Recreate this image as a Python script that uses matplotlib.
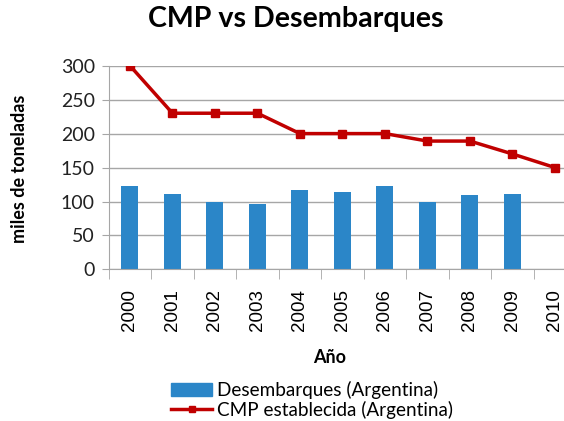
import numpy as np
import matplotlib.pyplot as plt
from matplotlib.lines import Line2D
from matplotlib.patches import Patch

plt.rcParams["font.family"] = ["Lato", "DejaVu Sans"]

years = ["2000", "2001", "2002", "2003", "2004", "2005",
         "2006", "2007", "2008", "2009", "2010"]
desembarques = [123, 111, 99, 97, 117, 114, 123, 99, 109, 111, np.nan]
cmp_establecida = [300, 230, 230, 230, 200, 200, 200, 189, 189, 170, 150]

fig = plt.figure(figsize=(5.64, 4.21), dpi=100)
ax = fig.add_axes([0.1927, 0.36, 0.829, 0.484])

x = np.arange(len(years))
ax.bar(x, desembarques, width=0.4, color="#2b86c8", zorder=2)
ax.plot(x, cmp_establecida, color="#c00000", linewidth=2.5, marker="s",
        markersize=6, zorder=3)

ax.set_xlim(-0.5, len(years) - 0.5)
ax.set_ylim(0, 300)
ax.set_yticks(range(0, 301, 50))
ax.yaxis.grid(True, color="#a6a6a6", linewidth=1, zorder=0)
ax.tick_params(axis="y", length=5, color="#a6a6a6", labelsize=14,
               labelcolor="#222222", pad=5)

ax.set_xticks(x)
ax.set_xticklabels(years, rotation=90, fontsize=13.5,
                   family=["Liberation Sans", "DejaVu Sans"])
ax.set_xticks(np.arange(-0.5, len(years), 1), minor=True)
ax.tick_params(axis="x", which="major", length=0, pad=14)
ax.tick_params(axis="x", which="minor", length=7, color="#a6a6a6")

for side in ["top", "right"]:
    ax.spines[side].set_visible(False)
for side in ["left", "bottom"]:
    ax.spines[side].set_color("#a6a6a6")

fig.text(0.035, 0.599, "miles de toneladas", fontsize=13, fontweight="bold",
         rotation=90, ha="center", va="center")
fig.text(0.585, 0.152, "Año", fontsize=13, fontweight="bold",
         ha="center", va="center")
fig.text(0.525, 0.935, "CMP vs Desembarques", fontsize=20.6, fontweight="bold",
         ha="center")

handles = [Patch(color="#2b86c8"),
           Line2D([0], [0], color="#c00000", linewidth=2.5, marker="s", markersize=5)]
fig.legend(handles, ["Desembarques (Argentina)", "CMP establecida (Argentina)"],
           loc="upper left", bbox_to_anchor=(0.287, 0.118), frameon=False,
           fontsize=13.6, handlelength=2.15, handletextpad=0.25, labelspacing=0.1,
           borderpad=0)

fig.savefig("out.png", dpi=100)
